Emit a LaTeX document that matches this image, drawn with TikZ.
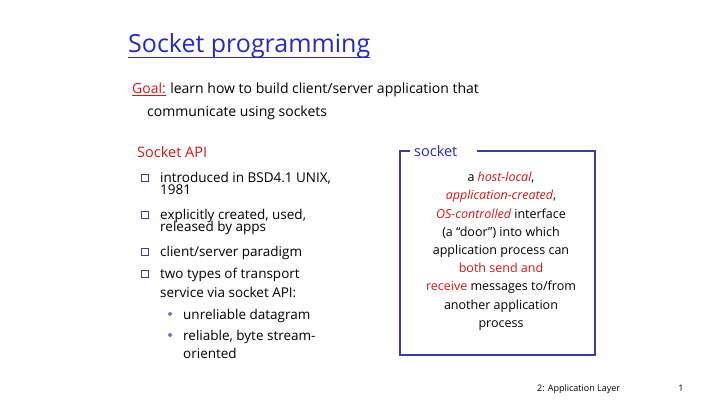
\documentclass[tikz,border=0pt]{standalone}
\usepackage{fontspec}
\usetikzlibrary{shapes.geometric}
\setmainfont{Open Sans}
\definecolor{tblue}{RGB}{40,40,200}
\definecolor{tred}{RGB}{220,20,20}
\definecolor{bblue}{RGB}{60,60,160}
\begin{document}
\begin{tikzpicture}[x=1pt,y=-1pt,
  body/.style={anchor=base west,inner sep=0pt,font=\fontsize{13.5}{16}\selectfont},
  sq/.style={draw=bblue,fill=white,minimum size=7pt,inner sep=0pt,line width=0.8pt},
  dm/.style={fill=bblue!70,diamond,minimum size=5pt,inner sep=0pt}]
\useasboundingbox (0,0) rectangle (720,405);
\node[anchor=base west,inner sep=0pt,text=tblue,font=\fontsize{25}{30}\selectfont] (title) at (128,52) {Socket programming};
\draw[tblue,line width=1pt] ([yshift=-5pt]title.base west) -- ([yshift=-5pt]title.base east);
\node[anchor=base west,inner sep=0pt,text=tred,font=\fontsize{14}{16}\selectfont] (goal) at (132,93) {Goal:};
\draw[tred,line width=0.8pt] ([yshift=-2.5pt]goal.base west) -- ([yshift=-2.5pt]goal.base east);
\node[body,font=\fontsize{14}{16}\selectfont] (goal1) at ([xshift=4pt]goal.base east) {learn how to build client/server application that};
\node[body,font=\fontsize{14}{16}\selectfont] (goal2) at (147,116) {communicate using sockets};
\node[body,text=tred,font=\fontsize{14.5}{16}\selectfont] (api) at (137,157) {Socket API};
\foreach \y/\t [count=\i] in {182/{introduced in BSD4.1 UNIX,},219/{explicitly created, used,},256/{client/server paradigm},278/{two types of transport}}
  {\node[sq] (b\i) at (145,\y-4.5) {}; \node[body] (t\i) at (160,\y) {\t};}
\node[body] (t1b) at (160,194) {1981};
\node[body] (t2b) at (160,231) {released by apps};
\node[body] (t4b) at (160,297) {service via socket API:};
\node[dm] (d1) at (170,314) {}; \node[body] (s1) at (183,319) {unreliable datagram};
\node[dm] (d2) at (170,335) {}; \node[body] (s2) at (183,340) {reliable, byte stream-};
\node[body] (s2b) at (183,358) {oriented};
\coordinate (bl) at (400,355);
\coordinate (tr) at (595,151);
\draw[bblue,line width=1.2pt] (410,151) -- (400,151) -- (bl) -- (595,355) -- (tr) -- (477,151);
\node[anchor=base west,inner sep=0pt,text=tblue,font=\fontsize{14.5}{16}\selectfont] (sock) at (414,156) {socket};
\node[anchor=north,align=center,inner sep=0pt,font=\fontsize{12.5}{18.2}\selectfont] (desc) at (501,172)
 {a \textcolor{tred}{\itshape host-local},\\ \textcolor{tred}{\itshape application-created},\\
  \textcolor{tred}{\itshape OS-controlled} interface\\ (a “door”) into which\\ application process can\\
  \textcolor{tred}{both send and}\\ \textcolor{tred}{receive} messages to/from\\ another application\\ process};
\node[anchor=base west,inner sep=0pt,font=\fontsize{9}{10}\selectfont] (foot) at (537,391) {2: Application Layer};
\node[anchor=base,inner sep=0pt,font=\fontsize{9}{10}\selectfont] (pg) at (681,391) {1};
\end{tikzpicture}
\end{document}
